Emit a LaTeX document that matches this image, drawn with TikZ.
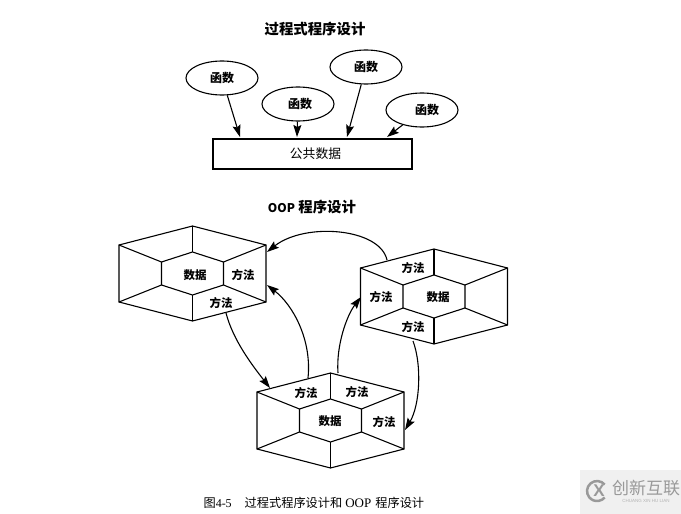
\documentclass[tikz,border=0pt]{standalone}
\usepackage{fontspec}
\setmainfont{Liberation Serif}
\newfontfamily\cjk{Noto Sans CJK SC}
\newfontfamily\hei{Liberation Sans}
\usetikzlibrary{arrows.meta, shapes.geometric}

\tikzset{
    >={Stealth[length=12pt,width=8pt,inset=2pt]},
    every path/.style={line width=1.1pt},
    func/.style={draw, ellipse, minimum width=72pt, minimum height=34pt, inner sep=0pt, font=\cjk\bfseries\fontsize{12}{12}\selectfont},
    celltext/.style={font=\cjk\bfseries\fontsize{11.5}{12}\selectfont},
    heading/.style={font=\cjk\bfseries\fontsize{14.4}{15}\selectfont}
}

% one hexagonal cell, outer corners o1..o6, inner corners i1..i6
\newcommand{\hexcell}[3]{
    \coordinate (#1o1) at (#2-73.5, #3-28.5);
    \coordinate (#1o2) at (#2, #3-47.5);
    \coordinate (#1o3) at (#2+73.5, #3-28.5);
    \coordinate (#1o4) at (#2+73.5, #3+28.5);
    \coordinate (#1o5) at (#2, #3+47.5);
    \coordinate (#1o6) at (#2-73.5, #3+28.5);
    \coordinate (#1i1) at (#2-31, #3-11.5);
    \coordinate (#1i2) at (#2, #3-21.5);
    \coordinate (#1i3) at (#2+31, #3-11.5);
    \coordinate (#1i4) at (#2+31, #3+11.5);
    \coordinate (#1i5) at (#2, #3+21.5);
    \coordinate (#1i6) at (#2-31, #3+11.5);
    \draw (#1o1) -- (#1o2) -- (#1o3) -- (#1o4) -- (#1o5) -- (#1o6) -- cycle;
    \draw (#1i1) -- (#1i2) -- (#1i3) -- (#1i4) -- (#1i5) -- (#1i6) -- cycle;
    \foreach \k in {1,...,6} {
        \draw (#1o\k) -- (#1i\k);
    }
}

\begin{document}
\begin{tikzpicture}[x=1pt, y=-1pt]
    \useasboundingbox (0, 0) rectangle (681, 514);

    % watermark
    \fill[black!6] (580, 470) rectangle (681, 514);
    \draw[black!40, line width=2.5pt] (604.7, 484.6) arc[start angle=-40, end angle=-320, radius=10];
    \node[font=\hei\bfseries\fontsize{17}{17}\selectfont, text=black!40, inner sep=0pt] (mark) at (599, 491) {X};
    \node[font=\cjk\fontsize{17}{17}\selectfont, text=black!40, inner sep=0pt] (brand) at (646, 488) {创新互联};
    \node[font=\hei\fontsize{4.5}{5}\selectfont, text=black!30, inner sep=0pt] (brandsub) at (646, 501) {CHUANG XIN HU LIAN};

    % top part
    \node[heading] (title1) at (315, 29) {过程式程序设计};

    \node[func] (f1) at (222, 78) {函数};
    \node[func] (f2) at (298, 104) {\hspace*{4pt}函数};
    \node[func] (f3) at (366, 67) {函数};
    \node[func] (f4) at (422, 110) {\hspace*{10pt}函数};

    \node[draw, minimum width=199pt, minimum height=30pt, inner sep=0pt, font=\cjk\fontsize{12.8}{13}\selectfont] (data) at (312.5, 154) {\hspace*{6pt}公共数据};

    \coordinate (t1) at (240, 137);
    \coordinate (t2) at (297, 137);
    \coordinate (t3) at (347, 137);
    \coordinate (t4) at (387, 137);

    \draw[->] (f1) to (t1);
    \draw[->] (f2) to (t2);
    \draw[->] (f3) to (t3);
    \draw[->] (f4) to (t4);

    % bottom part
    \node[heading] (title2) at (312, 207) {{\fontsize{12}{15}\selectfont OOP} 程序设计};

    \hexcell{a}{192.5}{273.5}
    \hexcell{b}{434}{296.5}
    \hexcell{c}{330.5}{420.5}

    \node[celltext] (a1) at (195, 275) {数据};
    \node[celltext] (a2) at (243, 275) {方法};
    \node[celltext] (a3) at (221, 303) {方法};

    \node[celltext] (b1) at (413, 268) {方法};
    \node[celltext] (b2) at (381, 297) {方法};
    \node[celltext] (b3) at (438, 297) {数据};
    \node[celltext] (b4) at (413, 327) {方法};

    \node[celltext] (c1) at (306, 393) {方法};
    \node[celltext] (c2) at (357, 392) {方法};
    \node[celltext] (c3) at (330, 421) {数据};
    \node[celltext] (c4) at (384, 422) {方法};

    \coordinate (ap1) at (267, 252);
    \coordinate (ap2) at (267, 285);
    \coordinate (ap3) at (226, 313);
    \coordinate (bp1) at (387, 260);
    \coordinate (bp2) at (361, 297);
    \coordinate (bp3) at (413, 341);
    \coordinate (cp1) at (270, 388);
    \coordinate (cp2) at (308, 378);
    \coordinate (cp3) at (338, 373);
    \coordinate (cp4) at (405, 430);

    \draw[->] (bp1) .. controls (380, 228) and (305, 222) .. (ap1);
    \draw[->] (cp2) .. controls (312, 340) and (293, 305) .. (ap2);
    \draw[->] (ap3) .. controls (233, 340) and (252, 365) .. (cp1);
    \draw[->] (cp3) .. controls (336, 345) and (347, 315) .. (bp2);
    \draw[->] (bp3) .. controls (422, 365) and (420, 405) .. (cp4);

    \node[anchor=west, font=\cjk\fontsize{12.2}{13}\selectfont, inner sep=0pt] (caption) at (203, 503) {图{\rmfamily\fontsize{12}{13}\selectfont 4-5}\hspace{13pt}过程式程序设计和\hspace{3pt}{\rmfamily\fontsize{13}{13}\selectfont OOP}\hspace{4pt}程序设计};
\end{tikzpicture}
\end{document}
